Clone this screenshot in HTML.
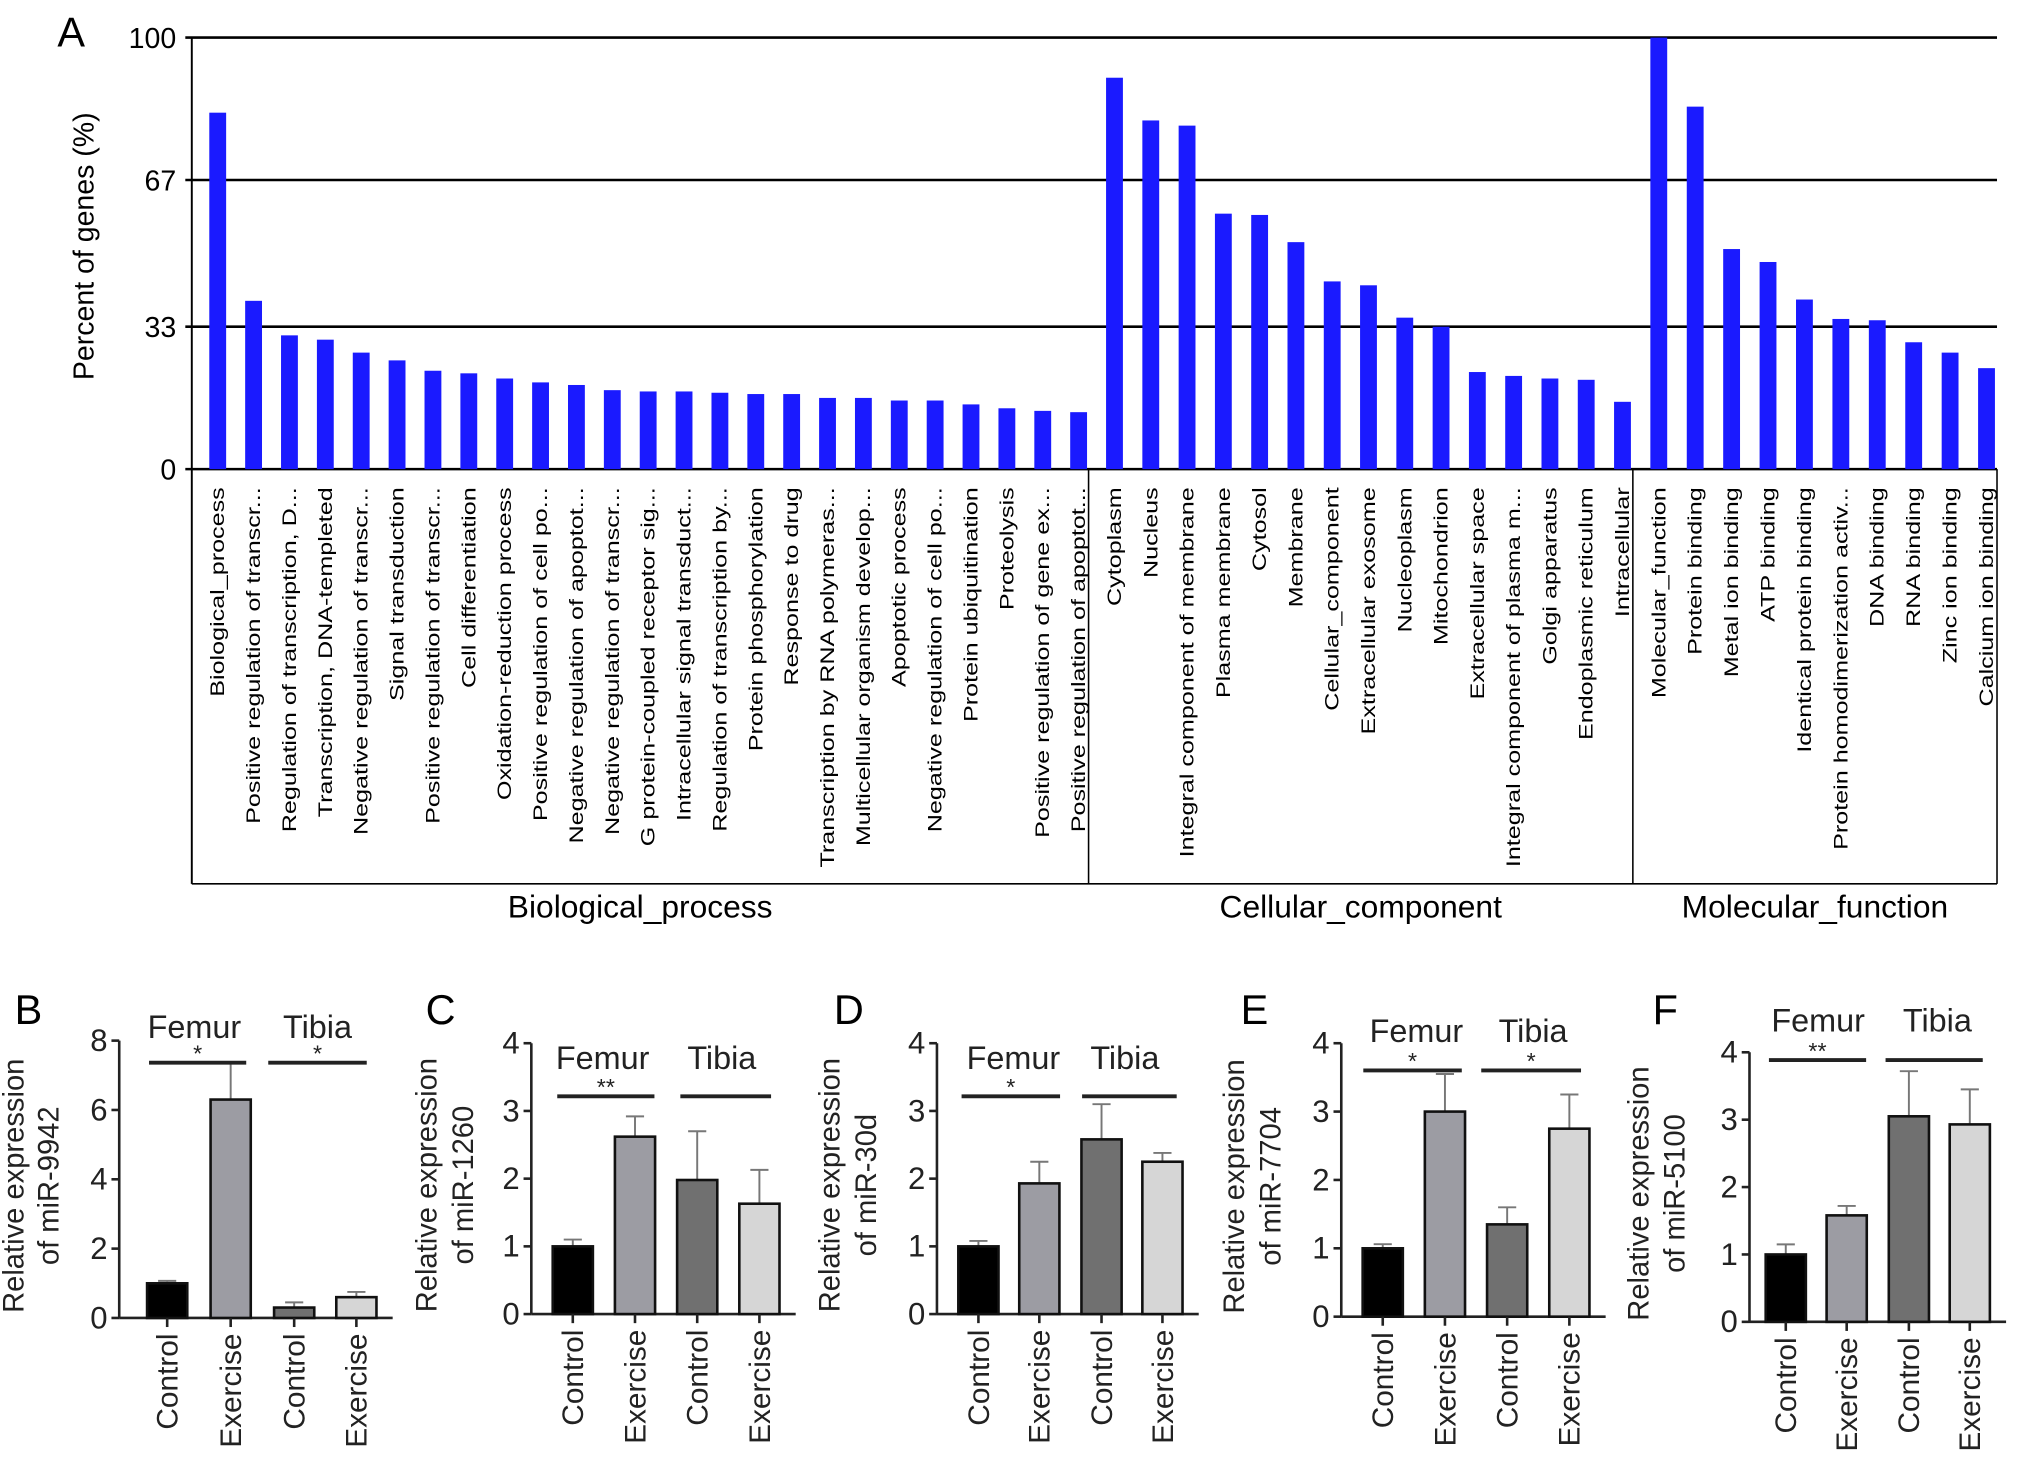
<!DOCTYPE html>
<html><head><meta charset="utf-8"><style>
html,body{margin:0;padding:0;background:#fff}
svg{display:block;font-family:"Liberation Sans",Arial,sans-serif}
</style></head><body>
<svg id="fig" width="2032" height="1467" viewBox="0 0 1568 1132" xmlns="http://www.w3.org/2000/svg">
<g id="pa"></g>
<g id="pb"></g>
</svg>
<script>
// ---- Panel A data ----
const bpLabels=["Biological_process","Positive regulation of transcr...","Regulation of transcription, D...","Transcription, DNA-templeted","Negative regulation of transcr...","Signal transduction","Positive regulation of transcr...","Cell differentiation","Oxidation-reduction process","Positive regulation of cell po...","Negative regulation of apoptot...","Negative regulation of transcr...","G protein-coupled receptor sig...","Intracellular signal transduct...","Regulation of transcription by...","Protein phosphorylation","Response to drug","Transcription by RNA polymeras...","Multicellular organism develop...","Apoptotic process","Negative regulation of cell po...","Protein ubiquitination","Proteolysis","Positive regulation of gene ex...","Positive regulation of apoptot..."];
const bpValues=[82.6,39,31,30,27,25.2,22.8,22.2,21,20.1,19.5,18.3,18,18,17.7,17.4,17.4,16.5,16.5,15.9,15.9,15,14.1,13.5,13.2];
const ccLabels=["Cytoplasm","Nucleus","Integral component of membrane","Plasma membrane","Cytosol","Membrane","Cellular_component","Extracellular exosome","Nucleoplasm","Mitochondrion","Extracellular space","Integral component of plasma m...","Golgi apparatus","Endoplasmic reticulum","Intracellular"];
const ccValues=[90.7,80.8,79.6,59.2,58.9,52.6,43.5,42.6,35.1,33,22.5,21.6,21,20.7,15.6];
const mfLabels=["Molecular_function","Protein binding","Metal ion binding","ATP binding","Identical protein binding","Protein homodimerization activ...","DNA binding","RNA binding","Zinc ion binding","Calcium ion binding"];
const mfValues=[100,84,51,48,39.3,34.8,34.5,29.4,27,23.4];
const groupNames=["Biological_process","Cellular_component","Molecular_function"];
const aTicks=[0,33,67,100];

// ---- Panels B-F data ----
const groupCats=["Control","Exercise","Control","Exercise"];
const panelIds=["B","C","D","E","F"];
const panelTitles=["of miR-9942","of miR-1260","of miR-30d","of miR-7704","of miR-5100"];
const panelMax=[8,4,4,4,4];
const panelTickStep=[2,1,1,1,1];
const meansB=[1.0,6.3,0.3,0.6], errB=[1.07,7.35,0.45,0.75];
const meansC=[1.0,2.62,1.98,1.63], errC=[1.1,2.92,2.7,2.13];
const meansD=[1.0,1.93,2.58,2.25], errD=[1.08,2.25,3.1,2.38];
const meansE=[1.0,3.0,1.35,2.75], errE=[1.06,3.55,1.6,3.25];
const meansF=[1.0,1.58,3.05,2.93], errF=[1.15,1.72,3.72,3.45];
const sigFemur=["*","**","*","*","**"];
const sigTibia=["*","","","*",""];

const NS="http://www.w3.org/2000/svg";
function mk(p,t,a,txt){const e=document.createElementNS(NS,t);for(const k in a)e.setAttribute(k,a[k]);if(txt!==undefined)e.textContent=txt;p.appendChild(e);return e;}

// Panel A
const pa=document.getElementById('pa');
const ax0=148, ax1=1541, y0=362, y100=29;
const yA=v=>y0-(v/100)*(y0-y100);
let t=mk(pa,'text',{x:55,y:36,'font-size':32,'text-anchor':'middle'},'A');

aTicks.forEach(v=>{
  let l=mk(pa,'line',{x1:ax0-5,x2:ax1,y1:yA(v),y2:yA(v),stroke:'#000','stroke-width':2});
  
  let tx=mk(pa,'text',{x:136,y:yA(v)+8,'font-size':22,'text-anchor':'end'},String(v));
  
});
let yl=mk(pa,'line',{x1:ax0,x2:ax0,y1:y100,y2:682,stroke:'#000','stroke-width':1.5});

let yt=mk(pa,'text',{x:72,y:190,'font-size':22,'text-anchor':'middle',transform:'rotate(-90 72 190)'},'Percent of genes (%)');

const groups=[[bpLabels,bpValues,148,840],[ccLabels,ccValues,840,1260],[mfLabels,mfValues,1260,1541]];
groups.forEach((g,gi)=>{
  const [labs,vals,gx0,gx1]=g;const band=(gx1-gx0)/vals.length;
  vals.forEach((v,i)=>{
    const bx=gx0+i*band+13.5;
    let r=mk(pa,'rect',{x:bx,y:yA(v),width:13,height:y0-yA(v),fill:'#1a1aff'});
    
    
    const cx=bx+6.5+5;
    let tl=mk(pa,'text',{x:0,y:0,'font-size':19.4,'text-anchor':'end',transform:`translate(${cx} 376) rotate(-90) scale(1 0.78)`},labs[i]);
    
  });
  let sep=mk(pa,'line',{x1:gx1,x2:gx1,y1:y0,y2:682,stroke:'#000','stroke-width':1.2});
  
  let gn=mk(pa,'text',{x:(gx0+gx1)/2,y:708,'font-size':24.5,'text-anchor':'middle'},groupNames[gi]);
  
});
let bl=mk(pa,'line',{x1:ax0,x2:ax1,y1:682,y2:682,stroke:'#000','stroke-width':1.2});


// Panels B-F
const pb=document.getElementById('pb');
const layout=[
 {ax:92,y0:1017,yt:803,bars:[129,178,227,275],bw:31,fy:793,line:[115,190,207,283],ly:820,lx:22,tx:[18,45],fx:150,tbx:245},
 {ax:410,y0:1014,yt:805,bars:[442,490,538,586],bw:31,fy:817,line:[430,505,525,595],ly:846,lx:340,tx:[337,365],fx:465,tbx:557},
 {ax:723,y0:1014,yt:805,bars:[755,802,850,897],bw:31,fy:817,line:[742,818,835,908],ly:846,lx:655,tx:[648,676],fx:782,tbx:868},
 {ax:1035,y0:1016,yt:805,bars:[1067,1115,1163,1211],bw:31,fy:796,line:[1052,1128,1143,1220],ly:826,lx:968,tx:[960,988],fx:1093,tbx:1183},
 {ax:1350,y0:1020,yt:812,bars:[1378,1425,1473,1520],bw:31,fy:788,line:[1365,1440,1455,1530],ly:818,lx:1285,tx:[1272,1300],fx:1403,tbx:1495}];
const allMeans=[meansB,meansC,meansD,meansE,meansF], allErr=[errB,errC,errD,errE,errF];
const fills=['#000','#9c9ca3','#707070','#d6d6d6'];
layout.forEach((L,pi)=>{
  const g=mk(pb,'g',{});
  const ys=v=>L.y0-(v/panelMax[pi])*(L.y0-L.yt);
  let le=mk(g,'text',{x:L.lx,y:790,'font-size':32,'text-anchor':'middle'},panelIds[pi]);
  
  let ya=mk(g,'line',{x1:L.ax,x2:L.ax,y1:L.yt,y2:L.y0,stroke:'#222','stroke-width':2});
  
  let xa=mk(g,'line',{x1:L.ax,x2:L.bars[3]+28,y1:L.y0,y2:L.y0,stroke:'#222','stroke-width':2});
  
  for(let v=0;v<=panelMax[pi];v+=panelTickStep[pi]){
    let tk=mk(g,'line',{x1:L.ax-6,x2:L.ax,y1:ys(v),y2:ys(v),stroke:'#222','stroke-width':2});
    
    let tl=mk(g,'text',{x:L.ax-9,y:ys(v)+8,'font-size':24,'text-anchor':'end',fill:'#222'},String(v));
    
  }
  const cy=(L.yt+L.y0)/2+5;
  let t1=mk(g,'text',{x:L.tx[0],y:cy,'font-size':22.5,'text-anchor':'middle',transform:`rotate(-90 ${L.tx[0]} ${cy})`,fill:'#222'},'Relative expression');
  
  let t2=mk(g,'text',{x:L.tx[1],y:cy,'font-size':22.5,'text-anchor':'middle',transform:`rotate(-90 ${L.tx[1]} ${cy})`,fill:'#222'},panelTitles[pi]);
  
  allMeans[pi].forEach((m,i)=>{
    const cx=L.bars[i];
    let e=mk(g,'line',{x1:cx,x2:cx,y1:ys(m),y2:ys(allErr[pi][i]),stroke:'#777','stroke-width':1.5});
    
    let ec=mk(g,'line',{x1:cx-7,x2:cx+7,y1:ys(allErr[pi][i]),y2:ys(allErr[pi][i]),stroke:'#777','stroke-width':1.5});
    
    let r=mk(g,'rect',{x:cx-L.bw/2,y:ys(m),width:L.bw,height:L.y0-ys(m),fill:fills[i],stroke:'#111','stroke-width':2});
    
    
    let tk=mk(g,'line',{x1:cx,x2:cx,y1:L.y0,y2:L.y0+7,stroke:'#222','stroke-width':2});
    
    const lyy=L.y0+12;
    let xl=mk(g,'text',{x:cx+8,y:lyy,'font-size':23,'text-anchor':'end',transform:`rotate(-90 ${cx+8} ${lyy})`,fill:'#222'},groupCats[i]);
    
  });
  let fl=mk(g,'line',{x1:L.line[0],x2:L.line[1],y1:L.ly,y2:L.ly,stroke:'#222','stroke-width':3});
  
  let tl2=mk(g,'line',{x1:L.line[2],x2:L.line[3],y1:L.ly,y2:L.ly,stroke:'#222','stroke-width':3});
  
  let ft=mk(g,'text',{x:L.fx,y:L.fy+8,'font-size':25,'text-anchor':'middle',fill:'#222'},'Femur');
  
  let tt=mk(g,'text',{x:L.tbx,y:L.fy+8,'font-size':25,'text-anchor':'middle',fill:'#222'},'Tibia');
  
  if(sigFemur[pi]){let s=mk(g,'text',{x:(L.line[0]+L.line[1])/2,y:L.ly-1,'font-size':18,'text-anchor':'middle',fill:'#222'},sigFemur[pi]);
    }
  if(sigTibia[pi]){let s=mk(g,'text',{x:(L.line[2]+L.line[3])/2,y:L.ly-1,'font-size':18,'text-anchor':'middle',fill:'#222'},sigTibia[pi]);
    }
});
</script>
</body></html>
